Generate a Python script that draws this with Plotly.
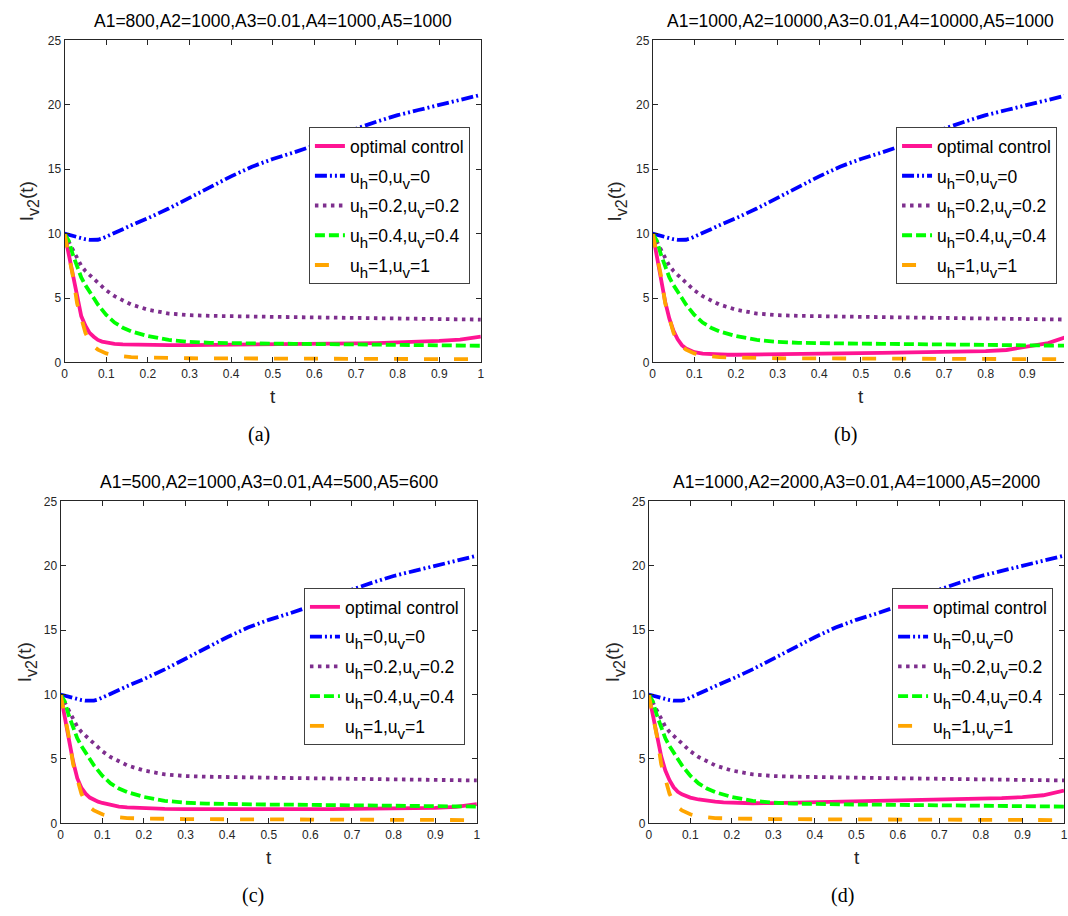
import plotly.graph_objects as go

W, H = 1068, 916

t = [0, 0.01, 0.02, 0.03, 0.04, 0.05, 0.06, 0.07, 0.08, 0.09, 0.10, 0.12, 0.14, 0.16,
     0.18, 0.20, 0.25, 0.30, 0.35, 0.40, 0.45, 0.50, 0.55, 0.60, 0.65, 0.70, 0.75,
     0.80, 0.85, 0.90, 0.95, 1.00]

u0 = [10, 9.9, 9.8, 9.72, 9.64, 9.57, 9.52, 9.5, 9.53, 9.62, 9.78, 10.05, 10.35, 10.65,
      10.9, 11.2, 11.95, 12.8, 13.6, 14.45, 15.2, 15.8, 16.3, 16.85, 17.5, 18.15, 18.7,
      19.2, 19.6, 20.0, 20.4, 20.78]
u02 = [10, 9.35, 8.65, 8.0, 7.5, 7.1, 6.8, 6.45, 6.15, 5.85, 5.6, 5.15, 4.8, 4.5,
       4.3, 4.1, 3.8, 3.67, 3.62, 3.58, 3.56, 3.54, 3.52, 3.5, 3.48, 3.47, 3.46,
       3.44, 3.42, 3.39, 3.36, 3.33]
u04 = [10, 9.45, 8.35, 7.4, 6.6, 6.0, 5.45, 5.0, 4.5, 4.05, 3.7, 3.1, 2.7, 2.42,
       2.2, 2.05, 1.75, 1.6, 1.53, 1.49, 1.47, 1.46, 1.45, 1.44, 1.42, 1.41, 1.39,
       1.38, 1.36, 1.34, 1.32, 1.3]
u1 = [10, 8.5, 6.7, 4.6, 3.3, 2.3, 1.65, 1.25, 1.0, 0.82, 0.7, 0.55, 0.45, 0.41,
      0.39, 0.37, 0.34, 0.33, 0.32, 0.31, 0.31, 0.3, 0.3, 0.29, 0.29, 0.28, 0.28,
      0.27, 0.27, 0.26, 0.26, 0.25]

opt_a = [10, 8.4, 6.5, 4.85, 3.6, 2.85, 2.3, 2.0, 1.75, 1.62, 1.55, 1.45, 1.41, 1.39,
         1.37, 1.36, 1.35, 1.35, 1.36, 1.37, 1.38, 1.39, 1.41, 1.43, 1.45, 1.48, 1.51,
         1.55, 1.6, 1.67, 1.78, 2.0]
opt_b = [10, 8.3, 6.4, 4.7, 3.4, 2.45, 1.8, 1.35, 1.08, 0.9, 0.8, 0.68, 0.63, 0.61,
         0.6, 0.6, 0.61, 0.63, 0.65, 0.67, 0.7, 0.72, 0.74, 0.76, 0.78, 0.8, 0.84,
         0.88, 0.97, 1.2, 1.5, 2.05]
opt_c = [10, 8.4, 6.5, 4.8, 3.5, 2.75, 2.3, 2.0, 1.8, 1.68, 1.58, 1.42, 1.3, 1.24,
         1.2, 1.17, 1.12, 1.1, 1.09, 1.09, 1.09, 1.09, 1.1, 1.1, 1.11, 1.12, 1.13,
         1.15, 1.17, 1.2, 1.27, 1.5]
opt_d = [10, 8.5, 6.8, 5.2, 4.1, 3.35, 2.8, 2.45, 2.25, 2.1, 2.0, 1.85, 1.75, 1.68,
         1.63, 1.6, 1.56, 1.57, 1.6, 1.63, 1.66, 1.69, 1.72, 1.75, 1.78, 1.82, 1.86,
         1.9, 1.96, 2.04, 2.18, 2.55]

titles = ["A1=800,A2=1000,A3=0.01,A4=1000,A5=1000",
          "A1=1000,A2=10000,A3=0.01,A4=10000,A5=1000",
          "A1=500,A2=1000,A3=0.01,A4=500,A5=600",
          "A1=1000,A2=2000,A3=0.01,A4=1000,A5=2000"]
captions = ["(a)", "(b)", "(c)", "(d)"]


def sub(s, size, shift):
    return '<span style="font-size:%dpx;baseline-shift:-%dpx">%s</span>' % (size, shift, s)


def uname(a, b):
    return "u" + sub("h", 15, 6) + "=" + a + ",u" + sub("v", 15, 6) + "=" + b


names = ["optimal control", uname("0", "0"), uname("0.2", "0.2"),
         uname("0.4", "0.4"), uname("1", "1")]
xticks = [0, 0.1, 0.2, 0.3, 0.4, 0.5, 0.6, 0.7, 0.8, 0.9, 1]
xtick_text = ["0", "0.1", "0.2", "0.3", "0.4", "0.5", "0.6", "0.7", "0.8", "0.9", "1"]
yticks = [0, 5, 10, 15, 20, 25]

optimal = [opt_a, opt_b, opt_c, opt_d]
controls = [u0, u02, u04, u1]

styles = [
    dict(color="#FF1493", width=3.8, dash="solid"),
    dict(color="#0000FF", width=3.8, dash="12px,3px,2px,3px,2px,3px"),
    dict(color="#7E2F8E", width=3.8, dash="3.5px,4.5px"),
    dict(color="#00FF00", width=3.8, dash="10px,4px"),
    dict(color="#FFA500", width=3.8, dash="14px,16px"),
]

# panel geometry in pixels: (left, right, top, bottom, xmax)
panels = [
    (62, 481, 34, 361, 1.0),
    (654, 1068, 34, 361, (1068 - 654) / 419.0),
    (58, 477, 502, 829, 1.0),
    (650, 1068, 502, 829, 1.0),
]
legend_pos = [(470, 122), (1061, 122), (465, 590), (1057, 590)]
ylab_x = [27, 619, 24, 616]
cap_x = [258, 848, 252, 845]

fig = go.Figure()
FONT = "Liberation Sans"
axcol = "#262626"

for i in range(4):
    xa = "x" if i == 0 else f"x{i+1}"
    ya = "y" if i == 0 else f"y{i+1}"
    lg = "legend" if i == 0 else f"legend{i+1}"
    series = [optimal[i]] + controls
    for k in range(5):
        fig.add_trace(go.Scatter(x=t, y=series[k], mode="lines", name=names[k],
                                 line=styles[k], xaxis=xa, yaxis=ya, legend=lg,
                                 legendgroup=f"g{i}_{k}", showlegend=True))
    l, r, tp, b, xmax = panels[i]
    xk = "xaxis" if i == 0 else f"xaxis{i+1}"
    yk = "yaxis" if i == 0 else f"yaxis{i+1}"
    tv = [v for v in xticks if v <= xmax + 1e-9]
    tt = xtick_text[:len(tv)]
    fig.layout[xk] = dict(domain=[l / W, r / W], range=[0, xmax], anchor=ya,
                          tickvals=tv, ticktext=tt, ticks="inside", ticklen=5,
                          tickcolor=axcol, showline=True, linecolor=axcol, linewidth=1,
                          mirror="ticks", showgrid=False, zeroline=False,
                          tickfont=dict(family=FONT, size=12, color=axcol))
    fig.layout[yk] = dict(domain=[1 - b / H, 1 - tp / H], range=[0, 25], anchor=xa,
                          tickvals=yticks, ticks="inside", ticklen=5,
                          tickcolor=axcol, showline=True, linecolor=axcol, linewidth=1,
                          mirror=("ticks" if xmax >= 1.0 else False), showgrid=False,
                          zeroline=False,
                          tickfont=dict(family=FONT, size=12, color=axcol))
    lx, ly = legend_pos[i]
    fig.layout[lg] = dict(x=lx / W, y=1 - ly / H, xanchor="right", yanchor="top",
                          xref="paper", yref="paper", traceorder="grouped",
                          bgcolor="white", bordercolor="#404040", borderwidth=1,
                          font=dict(family=FONT, size=17.5, color="black"),
                          tracegroupgap=4)
    cx = (l + (l + 419)) / 2
    fig.add_annotation(x=cx / W, y=1 - (tp - 20) / H, xref="paper", yref="paper",
                       text=titles[i], showarrow=False, xanchor="center", yanchor="middle",
                       font=dict(family=FONT, size=17.5, color="black"))
    fig.add_annotation(x=cx / W, y=1 - (b + 35) / H, xref="paper", yref="paper",
                       text="t", showarrow=False, xanchor="center", yanchor="middle",
                       font=dict(family=FONT, size=19, color=axcol))
    fig.add_annotation(x=ylab_x[i] / W, y=1 - ((tp + b) / 2) / H, xref="paper", yref="paper",
                       text="I" + sub("v2", 16, 6) + "(t)", showarrow=False, textangle=-90,
                       xanchor="center", yanchor="middle",
                       font=dict(family=FONT, size=19, color=axcol))
    fig.add_annotation(x=cap_x[i] / W, y=1 - (b + 73) / H, xref="paper", yref="paper",
                       text=captions[i], showarrow=False, xanchor="center", yanchor="middle",
                       font=dict(family="Liberation Serif", size=20, color="black"))

fig.update_layout(width=W, height=H, margin=dict(l=0, r=0, t=0, b=0),
                  paper_bgcolor="white", plot_bgcolor="white", showlegend=True)

fig.write_html("out.html")
